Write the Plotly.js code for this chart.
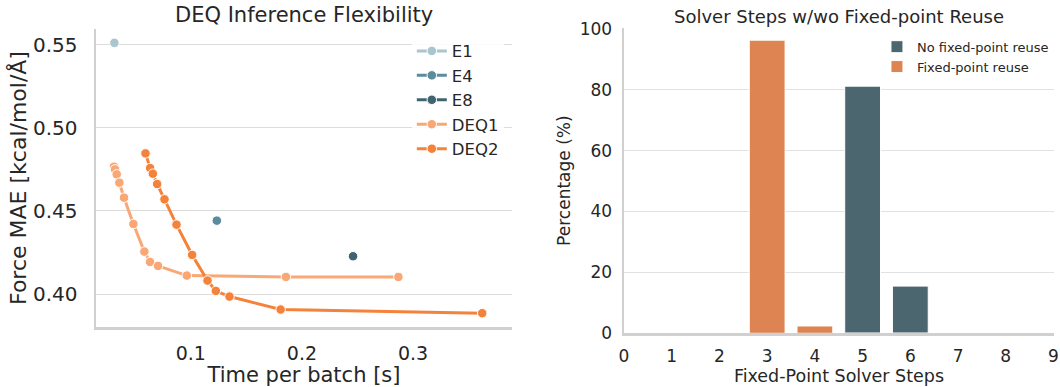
<!DOCTYPE html>
<html>
<head>
<meta charset="utf-8">
<script src="https://cdn.plot.ly/plotly-3.0.1.min.js"></script>
<style>html,body{margin:0;padding:0;background:#fff;}#chart{width:1060px;height:387px;}</style>
</head>
<body>
<div id="chart"></div>
<script>
// ---- Left panel data: time per batch [s] vs force MAE ----
const e1Time = [0.0312];
const e1Mae = [0.551];
const e4Time = [0.1234];
const e4Mae = [0.4442];
const e8Time = [0.246];
const e8Mae = [0.4228];
const deq1Time = [0.0309, 0.0318, 0.0333, 0.0357, 0.0399, 0.0483, 0.0582, 0.0633, 0.0705, 0.0964, 0.1856, 0.2868];
const deq1Mae = [0.4766, 0.4750, 0.4720, 0.4670, 0.4580, 0.4422, 0.4256, 0.4194, 0.4170, 0.4112, 0.4104, 0.4104];
const deq2Time = [0.0592, 0.0634, 0.0658, 0.0697, 0.0763, 0.0871, 0.1012, 0.1150, 0.1225, 0.1348, 0.1808, 0.3622];
const deq2Mae = [0.4846, 0.4758, 0.4724, 0.4662, 0.4570, 0.4418, 0.4236, 0.4082, 0.4020, 0.3986, 0.3908, 0.3886];

// ---- Right panel data: solver steps distribution ----
const steps = [3, 4, 5, 6];
const noReusePct = [0, 0, 81.2, 15.5];
const reusePct = [96.3, 2.4, 0, 0];
const stepTicks = [0, 1, 2, 3, 4, 5, 6, 7, 8, 9];

const FONT = "DejaVu Sans, sans-serif";
const TXT = "#262626";

function lineTrace(name, x, y, color) {
  return {
    type: "scatter", mode: "lines+markers", name: name, x: x, y: y,
    xaxis: "x", yaxis: "y", legend: "legend",
    line: {color: color, width: 3},
    marker: {color: color, size: 9.5, line: {color: "#ffffff", width: 1}}
  };
}

const traces = [
  lineTrace("E1", e1Time, e1Mae, "#a9c5cd"),
  lineTrace("E4", e4Time, e4Mae, "#5a8c9e"),
  lineTrace("E8", e8Time, e8Mae, "#40646f"),
  lineTrace("DEQ1", deq1Time, deq1Mae, "#f8a775"),
  lineTrace("DEQ2", deq2Time, deq2Mae, "#f5823a"),
  {
    type: "bar", name: "No fixed-point reuse", x: steps, y: noReusePct,
    xaxis: "x2", yaxis: "y2", legend: "legend2", width: 0.75,
    marker: {color: "#4c6670", line: {color: "#ffffff", width: 1}}
  },
  {
    type: "bar", name: "Fixed-point reuse", x: steps, y: reusePct,
    xaxis: "x2", yaxis: "y2", legend: "legend2", width: 0.75,
    marker: {color: "#dd8452", line: {color: "#ffffff", width: 1}}
  }
];

const axisCommon = {
  showline: true, linecolor: "#d0d0d0", linewidth: 2.5,
  ticks: "", zeroline: false, color: TXT
};

const layout = {
  width: 1060, height: 387,
  margin: {l: 0, r: 0, t: 0, b: 0},
  paper_bgcolor: "#ffffff", plot_bgcolor: "#ffffff",
  font: {family: FONT, color: TXT},
  barmode: "overlay",
  showlegend: true,
  xaxis: Object.assign({}, axisCommon, {
    domain: [0.0906, 0.483], range: [0.0147, 0.389],
    tickvals: [0.1, 0.2, 0.3], ticktext: ["0.1", "0.2", "0.3"],
    showgrid: false, tickfont: {size: 19, family: FONT, color: TXT},
    ticklabelstandoff: 8,
    title: {text: "Time per batch [s]", font: {size: 21, family: FONT, color: TXT}, standoff: 5},
    anchor: "y"
  }),
  yaxis: Object.assign({}, axisCommon, {
    domain: [0.155, 0.925], range: [0.3803, 0.5593],
    tickvals: [0.40, 0.45, 0.50, 0.55], ticktext: ["0.40", "0.45", "0.50", "0.55"],
    showgrid: true, gridcolor: "#dcdcdc", gridwidth: 1,
    tickfont: {size: 20, family: FONT, color: TXT},
    ticklabelstandoff: 12,
    title: {text: "Force MAE [kcal/mol/Å]", font: {size: 22, family: FONT, color: TXT}, standoff: 1},
    anchor: "x"
  }),
  xaxis2: Object.assign({}, axisCommon, {
    domain: [0.5887, 0.9943], range: [0, 9.01],
    tickvals: stepTicks, ticktext: stepTicks.map(String),
    showgrid: false, tickfont: {size: 17, family: FONT, color: TXT},
    ticklabelstandoff: 6,
    title: {text: "Fixed-Point Solver Steps", font: {size: 17.5, family: FONT, color: TXT}, standoff: 5},
    anchor: "y2"
  }),
  yaxis2: Object.assign({}, axisCommon, {
    domain: [0.1388, 0.9276], range: [0, 100.3],
    tickvals: [0, 20, 40, 60, 80, 100],
    showgrid: true, gridcolor: "#e2e2e2", gridwidth: 1,
    tickfont: {size: 17, family: FONT, color: TXT},
    ticklabelstandoff: 6,
    title: {text: "Percentage (%)", font: {size: 17, family: FONT, color: TXT}, standoff: 5},
    anchor: "x2"
  }),
  legend: {
    x: 0.4753, xanchor: "right", y: 0.913, yanchor: "top",
    bgcolor: "rgba(255,255,255,0.85)", borderwidth: 0,
    font: {size: 16.5, family: FONT, color: TXT},
    tracegroupgap: 0, itemwidth: 30
  },
  legend2: {
    x: 0.9943, xanchor: "right", y: 0.918, yanchor: "top",
    bgcolor: "rgba(255,255,255,0.85)", borderwidth: 0,
    font: {size: 13, family: FONT, color: TXT},
    tracegroupgap: 0
  },
  annotations: [
    {text: "DEQ Inference Flexibility", xref: "paper", yref: "paper",
     x: 303.5/1060, y: 1 - 15.5/387, xanchor: "center", yanchor: "middle", showarrow: false,
     font: {size: 21, family: FONT, color: TXT}},
    {text: "Solver Steps w/wo Fixed-point Reuse", xref: "paper", yref: "paper",
     x: 838.5/1060, y: 1 - 16.5/387, xanchor: "center", yanchor: "middle", showarrow: false,
     font: {size: 18, family: FONT, color: TXT}}
  ]
};

Plotly.newPlot("chart", traces, layout, {displayModeBar: false, staticPlot: true});
</script>
</body>
</html>
